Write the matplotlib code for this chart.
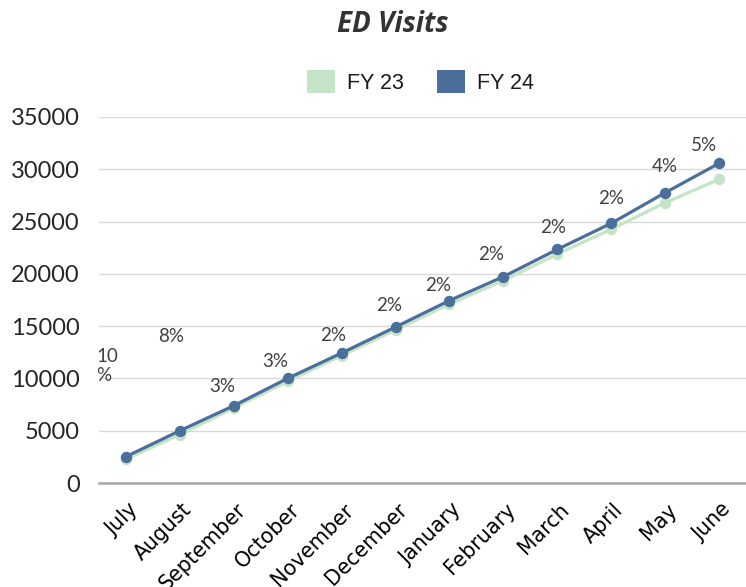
import matplotlib
matplotlib.use("Agg")
import matplotlib.pyplot as plt
from matplotlib.patches import Patch
from matplotlib.transforms import ScaledTranslation

# ED visit counts by fiscal month
months = ["July", "August", "September", "October", "November", "December",
          "January", "February", "March", "April", "May", "June"]
fy23 = [2290, 4630, 7170, 9720, 12190, 14630, 17110, 19350, 21900, 24260, 26800, 29040]
fy24 = [2520, 5000, 7390, 10010, 12430, 14920, 17450, 19730, 22340, 24830, 27760, 30570]
change_labels = ["10\n%", "8%", "3%", "3%", "2%", "2%", "2%", "2%", "2%", "2%", "4%", "5%"]
y_ticks = [0, 5000, 10000, 15000, 20000, 25000, 30000, 35000]

# label placement relative to each FY 24 point, in pixels (right, down)
label_offsets_px = [(-19, -91), (-9, -94), (-12, -19), (-12, -17), (-9, -18), (-6, -21),
                    (-11, -15), (-12, -22), (-4, -22), (0, -25), (0, -26), (-15, -18)]

C23 = "#c5e4c7"
C24 = "#4b6f9b"

DPI = 100
fig = plt.figure(figsize=(7.46, 5.87), dpi=DPI)
ax = fig.add_axes([99 / 746, (587 - 483) / 587, (746 - 99) / 746, (483 - 117) / 587])

x = list(range(len(months)))
ax.plot(x, fy23, color=C23, lw=2.3, marker="o", ms=7.2, zorder=3, clip_on=False)
ax.plot(x, fy24, color=C24, lw=2.3, marker="o", ms=7.2, zorder=4, clip_on=False)

px = 72 / DPI
for xi, yi, lab, (dx, dy) in zip(x, fy24, change_labels, label_offsets_px):
    ax.annotate(lab, (xi, yi), xytext=(dx * px, -dy * px), textcoords="offset points",
                ha="center", va="center", multialignment="left",
                fontsize=13.5, family="Lato", color="#404040", linespacing=1.15,
                annotation_clip=False)

ax.set_xlim(-0.5, 11.5)
ax.set_ylim(0, 35000)
ax.set_yticks(y_ticks)
ax.set_yticklabels([str(v) for v in y_ticks], family="Lato", fontsize=17, color="#262626")
ax.set_xticks(x)
ax.set_xticklabels(months, rotation=45, ha="right", va="center", rotation_mode="anchor",
                   family="DejaVu Sans", fontsize=14.8, color="#000000")
ax.tick_params(axis="y", length=0, pad=14)
ax.tick_params(axis="x", length=0, pad=17)
shift = ScaledTranslation(9 / DPI, 0, fig.dpi_scale_trans)
for lbl in ax.get_xticklabels():
    lbl.set_transform(lbl.get_transform() + shift)

ax.grid(axis="y", color="#d9d9d9", lw=1.0)
ax.set_axisbelow(True)
for side in ("left", "right", "top"):
    ax.spines[side].set_visible(False)
ax.spines["bottom"].set_color("#a6a6a6")
ax.spines["bottom"].set_linewidth(1.8)
ax.spines["bottom"].set_zorder(2)

fig.text(393 / 746, 1 - 24 / 587, "ED Visits", ha="center", va="center",
         family="Open Sans", fontweight="bold", style="italic", fontsize=20, color="#333333")

handles = [Patch(facecolor=C23, edgecolor="none", label="FY 23"),
           Patch(facecolor=C24, edgecolor="none", label="FY 24")]
fig.legend(handles=handles, loc="center", bbox_to_anchor=(420.5 / 746, 1 - 82 / 587),
           ncol=2, frameon=False, prop={"family": "Liberation Sans", "size": 15.5},
           handlelength=1.3, handleheight=1.3, handletextpad=0.56, columnspacing=1.5,
           borderpad=0, labelcolor="#1a1a1a")

fig.savefig("out.png", dpi=DPI)
